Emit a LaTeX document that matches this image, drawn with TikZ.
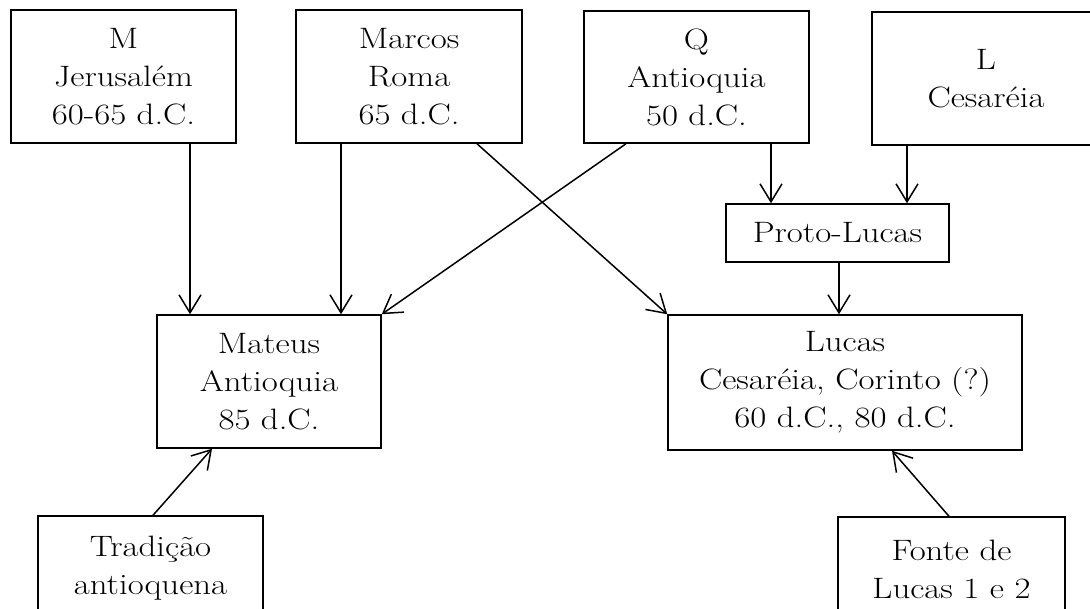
\documentclass[tikz,border=0pt]{standalone}
\usepackage{fontspec}
\usepackage{graphicx}
\usetikzlibrary{arrows.meta}

% wide-set text line
\newcommand\wl[1]{\scalebox{1.18}[1]{#1}}

\tikzset{
  box/.style={draw, line width=1.5pt, rectangle, inner sep=0pt, align=center,
    font=\fontsize{29.5}{38}\selectfont},
  arr/.style={line width=1.5pt, -{Straight Barb[length=18pt,width=22pt]}}
}

\begin{document}
\begin{tikzpicture}[x=1pt, y=-1pt]
  \useasboundingbox (0,0) rectangle (1090,608);
  \clip (0,0) rectangle (1090,608);

  % sources
  \node[box, minimum width=225pt, minimum height=133pt] (M) at (123.5,76.5)
    {\wl{M}\\\wl{Jerusalém}\\\wl{60-65 d.C.}};
  \node[box, minimum width=226pt, minimum height=133pt] (Mc) at (409,76.5)
    {\wl{Marcos}\\\wl{Roma}\\\wl{65 d.C.}};
  \node[box, minimum width=225pt, minimum height=132pt] (Q) at (696.5,77)
    {\wl{Q}\\\wl{Antioquia}\\\wl{50 d.C.}};
  \node[box, minimum width=228pt, minimum height=133pt] (L) at (986,78.5)
    {\wl{L}\\\wl{Cesaréia}};

  % intermediate source
  \node[box, minimum width=223pt, minimum height=58pt] (P) at (837.5,233)
    {\wl{Proto-Lucas}};

  % gospels
  \node[box, minimum width=224pt, minimum height=133pt] (Mt) at (269,381.5)
    {\wl{Mateus}\\\wl{Antioquia}\\\wl{85 d.C.}};
  \node[box, minimum width=354pt, minimum height=135pt] (Lc) at (845,382.5)
    {\wl{Lucas}\\\wl{Cesaréia, Corinto (?)}\\\wl{60 d.C., 80 d.C.}};

  % further traditions
  \node[box, minimum width=225pt, minimum height=105pt] (T) at (150.5,568.5)
    {\wl{Tradição}\\\wl{antioquena}};
  \node[box, minimum width=227pt, minimum height=105pt] (F) at (951.5,569.5)
    {\wl{Fonte de}\\\wl{Lucas 1 e 2}};

  % dependencies
  \draw[arr] ([xshift=66.5pt]M.south) -- ([xshift=-79pt]Mt.north);
  \draw[arr] ([xshift=-68pt]Mc.south) -- ([xshift=72pt]Mt.north);
  \draw[arr] ([xshift=-70.5pt]Q.south) -- (Mt.north east);
  \draw[arr] ([xshift=68pt]Mc.south) -- (Lc.north west);
  \draw[arr] ([xshift=74.5pt]Q.south) -- ([xshift=-66.5pt]P.north);
  \draw[arr] ([xshift=-79pt]L.south) -- ([xshift=69.5pt]P.north);
  \draw[arr] ([xshift=1.5pt]P.south) -- ([xshift=-6pt]Lc.north);
  \draw[arr] ([xshift=2.5pt]T.north) -- ([xshift=-57pt]Mt.south);
  \draw[arr] ([xshift=-2.5pt]F.north) -- ([xshift=47pt]Lc.south);
\end{tikzpicture}
\end{document}
